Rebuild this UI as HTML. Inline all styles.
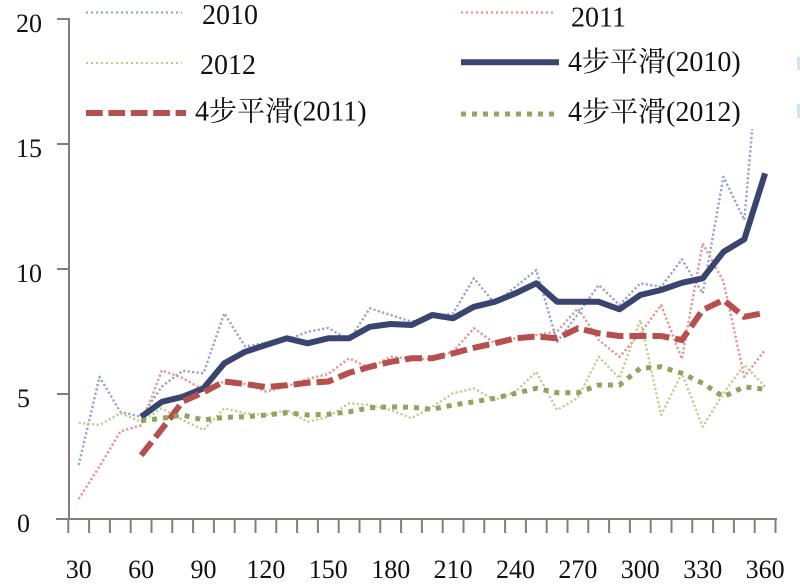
<!DOCTYPE html>
<html>
<head>
<meta charset="utf-8">
<style>
html,body{margin:0;padding:0;background:#fff;}
svg{display:block;}
</style>
</head>
<body>
<svg width="800" height="587" viewBox="0 0 800 587" xmlns="http://www.w3.org/2000/svg">
<rect x="0" y="0" width="800" height="587" fill="#fff"/>

<!-- raw series -->
<g fill="none" stroke-width="2.4" stroke-dasharray="2.2 2.3" stroke-linejoin="round">
<polyline stroke="#92a4d0" points="78.7,465 99.5,376.8 120.3,411.8 141.1,416.8 161.9,386.5 182.7,370.8 203.5,373.3 224.3,313.3 245.1,346.5 265.9,343 286.7,340 307.5,331.8 328.3,328 349.1,340 369.9,308.3 390.7,315 411.5,321.8 432.3,316.8 453.1,313.3 473.9,278.3 494.7,303.3 515.5,286.8 536.3,270 557.1,341.8 577.9,314 598.7,285 619.5,305 640.3,283.3 661.1,286.8 681.9,259.3 702.7,293.3 723.5,176.8 744.3,220 765.1,-18.5"/>
<polyline stroke="#e29492" points="78.7,499 99.5,466.5 120.3,431.5 141.1,425.3 161.9,370.3 182.7,378 203.5,390 224.3,381.5 245.1,384 265.9,391.5 286.7,386.5 307.5,379 328.3,374 349.1,358.3 369.9,368.3 390.7,356.5 411.5,359 432.3,359 453.1,351.5 473.9,328.3 494.7,343.3 515.5,338.3 536.3,335 557.1,331.5 577.9,308.3 598.7,340 619.5,356.8 640.3,333.3 661.1,305 681.9,359 702.7,243.3 723.5,281.5 744.3,376.8 765.1,350"/>
<polyline stroke="#bfd08e" points="78.7,422.8 99.5,425 120.3,413.3 141.1,421.8 161.9,408.3 182.7,420 203.5,430 224.3,408.3 245.1,413.3 265.9,415 286.7,410 307.5,421.8 328.3,416.8 349.1,403.3 369.9,405 390.7,410 411.5,418.3 432.3,406.8 453.1,393.3 473.9,388.3 494.7,400 515.5,391.8 536.3,371.8 557.1,410 577.9,397.8 598.7,356.8 619.5,378.3 640.3,320 661.1,415 681.9,373.3 702.7,426.8 723.5,393.3 744.3,365 765.1,386.8"/>
</g>

<!-- smoothed series -->
<polyline fill="none" stroke="#3a4470" stroke-width="6" stroke-linejoin="round" points="141.1,416.8 161.9,401.8 182.7,396.8 203.5,388.3 224.3,363.3 245.1,351.8 265.9,345 286.7,338.3 307.5,343.3 328.3,338.3 349.1,338.3 369.9,326.8 390.7,324 411.5,325 432.3,315 453.1,318.3 473.9,306.8 494.7,301.8 515.5,293.3 536.3,283.3 557.1,301.8 577.9,301.8 598.7,301.8 619.5,309.3 640.3,295 661.1,290 681.9,282.8 702.7,278.3 723.5,251.8 744.3,239.3 765.1,173.3"/>
<polyline fill="none" stroke="#b64f4e" stroke-width="6" stroke-dasharray="17 6" points="141.1,455.3 161.9,429 182.7,401.5 203.5,392.3 224.3,381.5 245.1,384 265.9,387 286.7,385.3 307.5,382.8 328.3,381.5 349.1,372.8 369.9,366.8 390.7,361.8 411.5,358.3 432.3,358.3 453.1,353.3 473.9,347.8 494.7,343.3 515.5,338.3 536.3,336.5 557.1,338.3 577.9,328.3 598.7,333.3 619.5,336 640.3,336 661.1,336 681.9,340 702.7,310 723.5,300 744.3,316.8 765.1,312.8"/>
<polyline fill="none" stroke="#8fa55d" stroke-width="5" stroke-dasharray="5 6" points="141.1,420.8 161.9,418.3 182.7,415 203.5,420 224.3,417.3 245.1,416.8 265.9,415 286.7,412.8 307.5,415 328.3,414.3 349.1,411.8 369.9,407.8 390.7,406.8 411.5,407.3 432.3,409.3 453.1,405 473.9,401.8 494.7,398.3 515.5,393.3 536.3,388.3 557.1,392.8 577.9,392.8 598.7,385 619.5,385 640.3,368.3 661.1,366.8 681.9,373.3 702.7,383.3 723.5,396.8 744.3,386.8 765.1,389.3"/>

<!-- legend background (covers overflow) -->
<rect x="560" y="0" width="240" height="129" fill="#fff"/>
<rect x="797" y="57" width="3" height="13" fill="#c6e8f0"/>
<rect x="797" y="104" width="3" height="14" fill="#c6e8f0"/>

<!-- axes -->
<g stroke="#877c7a" stroke-width="2" fill="none">
<line x1="69" y1="18" x2="69" y2="520"/>
<line x1="56" y1="519" x2="777" y2="519"/>
<line x1="57" y1="19" x2="69" y2="19"/>
<line x1="57" y1="144" x2="69" y2="144"/>
<line x1="57" y1="269" x2="69" y2="269"/>
<line x1="57" y1="394" x2="69" y2="394"/>
<path d="M68.3 519V533M89.1 519V533M109.9 519V533M130.7 519V533M151.5 519V533M172.3 519V533M193.1 519V533M213.9 519V533M234.7 519V533M255.5 519V533M276.3 519V533M297.1 519V533M317.9 519V533M338.7 519V533M359.5 519V533M380.3 519V533M401.1 519V533M421.9 519V533M442.7 519V533M463.5 519V533M484.3 519V533M505.1 519V533M525.9 519V533M546.7 519V533M567.5 519V533M588.3 519V533M609.1 519V533M629.9 519V533M650.7 519V533M671.5 519V533M692.3 519V533M713.1 519V533M733.9 519V533M754.7 519V533M775.5 519V533"/>
</g>

<!-- y labels -->
<g font-family="'Liberation Serif', serif" font-size="26" fill="#111">
<text x="16" y="32">20</text>
<text x="16" y="157">15</text>
<text x="16" y="282">10</text>
<text x="17" y="407">5</text>
<text x="17" y="532">0</text>
</g>

<!-- x labels -->
<g font-family="'Liberation Serif', serif" font-size="26" fill="#111" text-anchor="middle">
<text x="78.7" y="578">30</text>
<text x="141.1" y="578">60</text>
<text x="203.5" y="578">90</text>
<text x="265.9" y="578">120</text>
<text x="328.3" y="578">150</text>
<text x="390.7" y="578">180</text>
<text x="453.1" y="578">210</text>
<text x="515.5" y="578">240</text>
<text x="577.9" y="578">270</text>
<text x="640.3" y="578">300</text>
<text x="702.7" y="578">330</text>
<text x="765.1" y="578">360</text>
</g>

<!-- legend -->
<g fill="none">
<line x1="86" y1="12.5" x2="182" y2="12.5" stroke="#8a9cc9" stroke-width="2" stroke-dasharray="2 3"/>
<line x1="86" y1="63" x2="182" y2="63" stroke="#b9cb86" stroke-width="2" stroke-dasharray="2 3"/>
<line x1="86" y1="113" x2="186" y2="113" stroke="#b5504f" stroke-width="6" stroke-dasharray="16.7 5.7"/>
<line x1="461" y1="12.5" x2="555" y2="12.5" stroke="#d98a88" stroke-width="2" stroke-dasharray="2 3"/>
<line x1="461" y1="62.3" x2="559" y2="62.3" stroke="#3a4470" stroke-width="6"/>
<line x1="461" y1="114" x2="559" y2="114" stroke="#92a862" stroke-width="5" stroke-dasharray="5 6"/>
</g>
<g font-family="'Liberation Serif', 'Noto Serif CJK SC', serif" font-size="28" fill="#111">
<text x="202" y="24">2010</text>
<text x="200" y="74">2012</text>
<text x="195" y="120.5">4步平滑(2011)</text>
<text x="571" y="26.5">2011</text>
<text x="568" y="71">4步平滑(2010)</text>
<text x="568" y="121">4步平滑(2012)</text>
</g>
</svg>
</body>
</html>
